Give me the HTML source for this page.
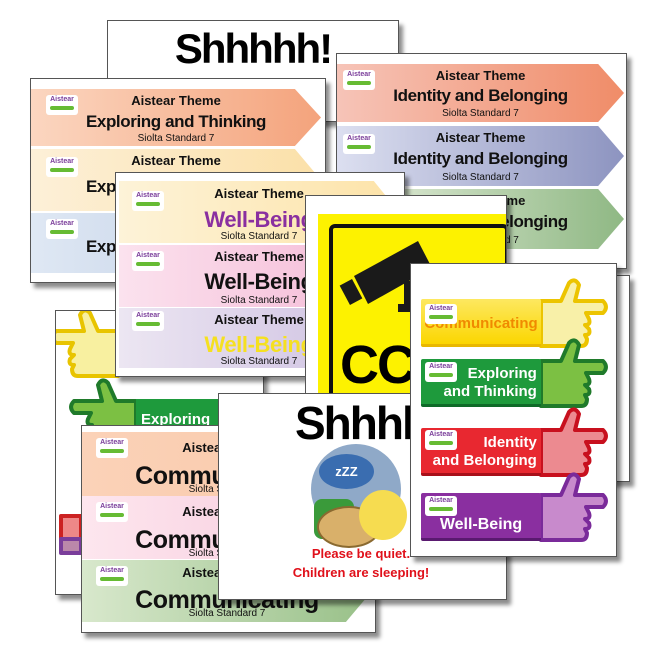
<!DOCTYPE html>
<html><head><meta charset="utf-8"><style>
body{margin:0;width:645px;height:645px;background:#fff;position:relative;overflow:hidden;font-family:"Liberation Sans",sans-serif}
.card{position:absolute;background:#fff;border:1px solid #555;box-shadow:4px 5px 4px rgba(0,0,0,.45);overflow:hidden}
.b{position:absolute;clip-path:polygon(0 0,91% 0,100% 50%,91% 100%,0 100%);text-align:center;font-weight:bold;color:#111}
.b .t{position:absolute;left:0;width:100%;font-size:13px;white-space:nowrap}
.b .h{position:absolute;left:0;width:100%;font-size:17px;white-space:nowrap;letter-spacing:-.4px}
.b .s{position:absolute;left:0;width:100%;font-size:10px;font-weight:normal;white-space:nowrap}
.logo{position:absolute;width:32px;height:20px;background:#fff;border-radius:3px;font-size:7px;color:#7a3d9a;font-weight:bold;text-align:center;line-height:10px}
.logo:after{content:"";position:absolute;left:4px;right:4px;top:11px;height:4px;background:#6b3;border-radius:2px}
.hb{position:absolute;color:#fff;font-weight:bold;font-size:15px;text-align:center;line-height:18px;border-radius:2px}
</style></head><body>

<div class="card" style="left:107px;top:20px;width:290px;height:100px">
<div style="position:absolute;left:0;width:100%;top:4px;text-align:center;font:bold 42px 'Liberation Sans',sans-serif;letter-spacing:-2px">Shhhhh!</div>
<div style="position:absolute;left:100px;top:65px;width:90px;height:90px;border-radius:50%;background:#9bb3cf"></div>
</div>

<div class="card" style="left:336px;top:53px;width:289px;height:214px">
<div class="b" style="left:0;top:10px;width:287px;height:58px;background:linear-gradient(90deg,#f6c4b8,#f08c68)"><div class="t" style="top:4px">Aistear Theme</div><div class="h" style="top:22px">Identity and Belonging</div><div class="s" style="top:44px">Siolta Standard 7</div></div>
<div class="b" style="left:0;top:72px;width:287px;height:60px;background:linear-gradient(90deg,#dcdff0,#8d94c0)"><div class="t" style="top:4px">Aistear Theme</div><div class="h" style="top:23px">Identity and Belonging</div><div class="s" style="top:46px">Siolta Standard 7</div></div>
<div class="b" style="left:0;top:135px;width:287px;height:60px;background:linear-gradient(90deg,#e8f0df,#8fb884)"><div class="t" style="top:4px">Aistear Theme</div><div class="h" style="top:23px">Identity and Belonging</div><div class="s" style="top:46px">Siolta Standard 7</div></div>
<div class="logo" style="left:6px;top:16px">Aistear</div><div class="logo" style="left:6px;top:80px">Aistear</div>
</div>

<div class="card" style="left:30px;top:78px;width:294px;height:203px">
<div class="b" style="left:0;top:10px;width:290px;height:57px;background:linear-gradient(90deg,#fbd6c0,#f4a37c)"><div class="t" style="top:4px">Aistear Theme</div><div class="h" style="top:23px">Exploring and Thinking</div><div class="s" style="top:44px">Siolta Standard 7</div></div>
<div class="b" style="left:0;top:70px;width:290px;height:62px;background:linear-gradient(90deg,#fdf0d8,#fbe0a8)"><div class="t" style="top:4px">Aistear Theme</div><div class="h" style="top:28px">Exploring and Thinking</div></div>
<div class="b" style="left:0;top:134px;width:290px;height:60px;background:linear-gradient(90deg,#dfe8f4,#b9c9e2)"><div class="h" style="top:24px">Exploring and Thinking</div></div>
<div class="logo" style="left:15px;top:16px">Aistear</div><div class="logo" style="left:15px;top:78px">Aistear</div><div class="logo" style="left:15px;top:140px">Aistear</div>
</div>

<div class="card" style="left:55px;top:310px;width:207px;height:283px">
<svg width="207" height="283" style="position:absolute;left:0;top:0">
<g stroke-width="4" stroke-linejoin="round">
<path transform="translate(62,20) scale(-1,1)" d="M0 0 L20 0 L28 -18 Q34 -24 38 -16 L34 0 L62 0 Q68 6 62 12 L45 12 L48 18 Q50 24 44 24 L48 28 Q50 34 44 34 L46 38 Q46 45 40 45 L0 45 Z" fill="#f8f0a0" stroke="#e8c400"/>
<path transform="translate(80,90) scale(-1,1)" d="M0 0 L20 0 L28 -18 Q34 -24 38 -16 L34 0 L62 0 Q68 6 62 12 L45 12 L48 18 Q50 24 44 24 L48 28 Q50 34 44 34 L46 38 Q46 45 40 45 L0 45 Z" fill="#7cc043" stroke="#1f7a2a"/>
<path d="M5 205 L25 205 L25 230 L5 230 Z" fill="#e88" stroke="#c22"/>
<path d="M5 228 L25 228 L25 242 L5 242 Z" fill="#b8a" stroke="#7a3d9a"/>
</g>
<rect x="80" y="88" width="90" height="37" fill="#1e9a3c"/>
</svg>
<div style="position:absolute;left:85px;top:100px;color:#fff;font-weight:bold;font-size:15px">Exploring</div>
</div>

<div class="card" style="left:115px;top:172px;width:288px;height:203px">
<div class="b" style="left:3px;top:8px;width:280px;height:62px;background:linear-gradient(90deg,#fdf3d8,#fde3a8)"><div class="t" style="top:5px">Aistear Theme</div><div class="h" style="top:26px;color:#8a2fa0;font-size:22px">Well-Being</div><div class="s" style="top:50px">Siolta Standard 7</div></div>
<div class="b" style="left:3px;top:72px;width:280px;height:62px;background:linear-gradient(90deg,#fbe2ee,#f4b6d4)"><div class="t" style="top:4px">Aistear Theme</div><div class="h" style="top:24px;font-size:22px">Well-Being</div><div class="s" style="top:50px">Siolta Standard 7</div></div>
<div class="b" style="left:3px;top:135px;width:280px;height:60px;background:linear-gradient(90deg,#ece6f2,#cbbde0)"><div class="t" style="top:4px">Aistear Theme</div><div class="h" style="top:24px;color:#f5e020;font-size:22px">Well-Being</div><div class="s" style="top:48px">Siolta Standard 7</div></div>
<div class="logo" style="left:16px;top:18px">Aistear</div><div class="logo" style="left:16px;top:78px">Aistear</div><div class="logo" style="left:16px;top:138px">Aistear</div>
</div>

<div class="card" style="left:305px;top:195px;width:200px;height:252px">
<div style="position:absolute;left:12px;top:18px;width:188px;height:234px;background:#fdf200"></div>
<div style="position:absolute;left:23px;top:28px;width:172px;height:220px;border:4px solid #111;border-radius:6px"></div>
<svg width="200" height="252" style="position:absolute;left:0;top:0"><path d="M48 80 L112 45 L126 72 L62 108 Z" fill="#1a1a1a"/><rect x="38" y="85" width="14" height="22" fill="#1a1a1a" transform="rotate(-28 45 96)"/><rect x="98" y="85" width="6" height="28" fill="#1a1a1a"/><rect x="92" y="108" width="16" height="8" fill="#1a1a1a"/></svg>
<div style="position:absolute;left:34px;top:138px;font:bold 54px 'Liberation Sans',sans-serif;letter-spacing:-2px">CCTV</div>
</div>

<div class="card" style="left:81px;top:425px;width:293px;height:206px">
<div class="b" style="left:0;top:6px;width:290px;height:64px;background:linear-gradient(90deg,#fbd2b8,#f9c8a8)"><div class="t" style="top:8px">Aistear Theme</div><div class="h" style="top:30px;font-size:25px">Communicating</div><div class="s" style="top:52px">Siolta Standard 7</div></div>
<div class="b" style="left:0;top:70px;width:290px;height:63px;background:linear-gradient(90deg,#fde6ee,#f6c8dc)"><div class="t" style="top:8px">Aistear Theme</div><div class="h" style="top:30px;font-size:25px">Communicating</div><div class="s" style="top:52px">Siolta Standard 7</div></div>
<div class="b" style="left:0;top:134px;width:290px;height:62px;background:linear-gradient(90deg,#d8e8cc,#98c088)"><div class="t" style="top:5px">Aistear Theme</div><div class="h" style="top:26px;font-size:25px">Communicating</div><div class="s" style="top:48px">Siolta Standard 7</div></div>
<div class="logo" style="left:14px;top:12px">Aistear</div><div class="logo" style="left:14px;top:76px">Aistear</div><div class="logo" style="left:14px;top:140px">Aistear</div>
</div>

<div class="card" style="left:218px;top:393px;width:287px;height:205px">
<div style="position:absolute;left:76px;top:2px;font:bold 46px 'Liberation Sans',sans-serif;letter-spacing:-2px">Shhhhh!</div>
<div style="position:absolute;left:92px;top:50px;width:90px;height:90px;border-radius:50%;background:#8fa9c8"></div>
<div style="position:absolute;left:100px;top:60px;width:55px;height:35px;border-radius:50%;background:#3a6db0;color:#fff;font-weight:bold;font-size:13px;text-align:center;line-height:35px">zZZ</div>
<div style="position:absolute;left:95px;top:105px;width:40px;height:40px;border-radius:8px;background:#3a9a3a"></div>
<div style="position:absolute;left:98px;top:112px;width:60px;height:38px;border-radius:50%;background:#d9b06a;border:2px solid #8a6a30"></div>
<div style="position:absolute;left:140px;top:96px;width:48px;height:50px;border-radius:50%;background:#f6dc50"></div>
<div style="position:absolute;left:42px;width:200px;top:150px;text-align:center;color:#e0101a;font-weight:bold;font-size:13px;line-height:19px">Please be quiet.<br>Children are sleeping!</div>
</div>

<div class="card" style="left:420px;top:275px;width:208px;height:205px"></div>
<div class="card" style="left:410px;top:263px;width:205px;height:292px">
<svg width="205" height="292" style="position:absolute;left:0;top:0">
<g stroke-width="4" stroke-linejoin="round">
<path transform="translate(130,37)" d="M0 0 L20 0 L28 -18 Q34 -24 38 -16 L34 0 L62 0 Q68 6 62 12 L45 12 L48 18 Q50 24 44 24 L48 28 Q50 34 44 34 L46 38 Q46 45 40 45 L0 45 Z" fill="#f8f0a8" stroke="#ecc400"/>
<path transform="translate(130,97)" d="M0 0 L20 0 L28 -18 Q34 -24 38 -16 L34 0 L62 0 Q68 6 62 12 L45 12 L48 18 Q50 24 44 24 L48 28 Q50 34 44 34 L46 38 Q46 45 40 45 L0 45 Z" fill="#7cc043" stroke="#1f7a2a"/>
<path transform="translate(130,166)" d="M0 0 L20 0 L28 -18 Q34 -24 38 -16 L34 0 L62 0 Q68 6 62 12 L45 12 L48 18 Q50 24 44 24 L48 28 Q50 34 44 34 L46 38 Q46 45 40 45 L0 45 Z" fill="#ec8a90" stroke="#c8101e"/>
<path transform="translate(130,231)" d="M0 0 L20 0 L28 -18 Q34 -24 38 -16 L34 0 L62 0 Q68 6 62 12 L45 12 L48 18 Q50 24 44 24 L48 28 Q50 34 44 34 L46 38 Q46 45 40 45 L0 45 Z" fill="#c88acc" stroke="#7a2a9a"/>
</g></svg>
<div class="hb" style="left:10px;top:35px;width:120px;height:45px;background:linear-gradient(#fde860,#fbd600);border-bottom:3px solid #e8b800;color:#f08a00;line-height:50px">Communicating</div>
<div class="hb" style="left:10px;top:95px;width:120px;height:39px;background:#1e9a3c;border-bottom:3px solid #0e6a28;padding-top:6px;text-align:right">Exploring&nbsp;<br>and Thinking&nbsp;</div>
<div class="hb" style="left:10px;top:164px;width:120px;height:39px;background:#e82830;border-bottom:3px solid #a8101a;padding-top:6px;text-align:right">Identity&nbsp;<br>and Belonging&nbsp;</div>
<div class="hb" style="left:10px;top:229px;width:120px;height:45px;background:#8a2fa0;border-bottom:3px solid #5a1a70;line-height:64px;font-size:16px">Well-Being</div>
<div class="logo" style="left:14px;top:40px">Aistear</div><div class="logo" style="left:14px;top:98px">Aistear</div><div class="logo" style="left:14px;top:166px">Aistear</div><div class="logo" style="left:14px;top:232px">Aistear</div>
</div>
</body></html>
